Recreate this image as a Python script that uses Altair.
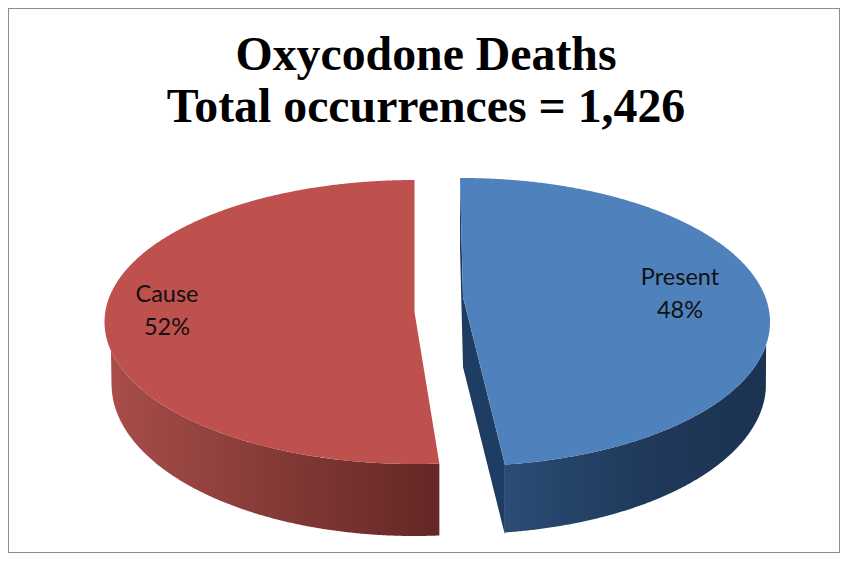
import numpy as np
import pandas as pd
import altair as alt

# Chart values
categories = ["Cause", "Present"]
shares = [52, 48]
title_lines = ["Oxycodone Deaths", "Total occurrences = 1,426"]
label_x = [167, 680]
label_y = [295, 278]

# Colours
RED_TOP, BLUE_TOP = "#BE504D", "#4F81BD"
BLUE_CUT = "#1F3C62"
FRAME = "#8C8C8C"

X_DOMAIN = [8, 840]
Y_DOMAIN = [8, 553]

# 3-D view geometry of the two exploded wedges (top ellipse, lower ellipse, apex)
RED = dict(cx=414.5, rx=310, cy=322, ry=142, low_rx=303, low_cy=384, low_ry=152,
           apex_x=414.5, apex_y=312, start_x=414.5, skew=-2.6)
BLUE = dict(cx=462, rx=308, cy=322, ry=144, low_rx=304, low_cy=384, low_ry=150,
            apex_x=463, apex_y=297, start_x=460, skew=0.8)
DEPTH = 70


def half_height(x, cx, rx, ry):
    return ry * np.sqrt(np.clip(1 - ((x - cx) / rx) ** 2, 0, 1))


def end_point(share, g):
    theta = np.radians(abs(share * 3.6 - 180) + g["skew"])
    return g["cx"] + g["rx"] * np.sin(theta), g["cy"] + g["ry"] * np.cos(theta)


def sweep(a, b, n=260):
    t = np.linspace(0, np.pi, n)
    return a + (b - a) * (1 - np.cos(t)) / 2


def red_frames(share):
    g = RED
    ex, ey = end_point(share, g)
    xa = sweep(g["cx"] - g["rx"], g["start_x"])
    xb = np.linspace(g["start_x"], ex, 40)
    top = pd.DataFrame({
        "x": np.r_[xa, xb],
        "y": np.r_[g["cy"] - half_height(xa, g["cx"], g["rx"], g["ry"]),
                   np.interp(xb, [g["apex_x"], ex], [g["apex_y"], ey])],
        "yb": np.r_[g["cy"] + half_height(xa, g["cx"], g["rx"], g["ry"]),
                    g["cy"] + half_height(xb, g["cx"], g["rx"], g["ry"])],
    })
    xw = sweep(g["cx"] - g["rx"], ex)
    upper = g["cy"] + half_height(xw, g["cx"], g["rx"], g["ry"])
    lower = g["low_cy"] + half_height(xw, g["cx"], g["low_rx"], g["low_ry"])
    lower = np.where(xw < g["cx"] - g["low_rx"], upper, np.maximum(lower, upper))
    wall = pd.DataFrame({"x": xw, "y": upper, "yb": lower})
    return top, wall


def blue_frames(share):
    g = BLUE
    ex, ey = end_point(share, g)
    xa = np.linspace(g["start_x"], ex, 60)
    xb = ex + (g["cx"] + g["rx"] - ex) * np.sin(np.linspace(0, np.pi / 2, 240))
    xs = np.r_[xa, xb]
    edge = np.interp(xa, [g["start_x"], g["apex_x"], ex],
                     [g["cy"] - g["ry"], g["apex_y"], ey])
    top = pd.DataFrame({
        "x": xs,
        "y": g["cy"] - half_height(xs, g["cx"], g["rx"], g["ry"]),
        "yb": np.r_[edge, g["cy"] + half_height(xb, g["cx"], g["rx"], g["ry"])],
    })
    upper = g["cy"] + half_height(xb, g["cx"], g["rx"], g["ry"])
    lower = g["low_cy"] + half_height(xb, g["cx"], g["low_rx"], g["low_ry"])
    lower = np.where(xb > g["cx"] + g["low_rx"], upper, np.maximum(lower, upper))
    wall = pd.DataFrame({"x": xb, "y": upper, "yb": lower})
    cut = pd.DataFrame({"x": xa, "y": edge, "yb": edge + DEPTH})
    return top, wall, cut


x_enc = alt.X("x:Q", scale=alt.Scale(domain=X_DOMAIN, nice=False, zero=False), axis=None)
y_enc = alt.Y("y:Q", scale=alt.Scale(domain=Y_DOMAIN, reverse=True, nice=False, zero=False), axis=None)


def face(df, color):
    return alt.Chart(df).mark_area(color=color, interpolate="linear").encode(
        x=x_enc, y=y_enc, y2=alt.Y2("yb")
    )


def grad(stops):
    return alt.Gradient(
        gradient="linear", x1=0, x2=1, y1=0, y2=0,
        stops=[alt.GradientStop(color=c, offset=o) for o, c in stops],
    )


red_top, red_wall = red_frames(shares[0])
blue_top, blue_wall, blue_cut = blue_frames(shares[1])

label_rows = []
for name, share, lx, ly in zip(categories, shares, label_x, label_y):
    label_rows.append({"x": lx, "y": ly, "t": [name, f"{share}%"]})
labels = alt.Chart(pd.DataFrame(label_rows)).mark_text(
    font="Lato", fontSize=23.5, color="#111111", align="center", baseline="middle", lineHeight=33
).encode(x=x_enc, y=y_enc, text="t:N")

chart = alt.layer(
    face(red_wall, grad([(0, "#A94E4B"), (0.5, "#853A37"), (1, "#642725")])),
    face(blue_cut, BLUE_CUT),
    face(blue_wall, grad([(0, "#2A4C74"), (0.5, "#203A5C"), (1, "#1B3250")])),
    face(red_top, RED_TOP),
    face(blue_top, BLUE_TOP),
    labels,
).properties(
    width=X_DOMAIN[1] - X_DOMAIN[0],
    height=Y_DOMAIN[1] - Y_DOMAIN[0],
    autosize=alt.AutoSizeParams(type="none"),
    padding=0,
    title=alt.TitleParams(
        text=title_lines, font="Liberation Serif", fontWeight="bold", fontSize=47.8,
        lineHeight=52, color="#000000", anchor="middle", frame="group", dy=128, dx=2,
    ),
).configure_view(stroke=FRAME, strokeWidth=2)

chart.save("out.html", embed_options={"renderer": "svg", "actions": False})
